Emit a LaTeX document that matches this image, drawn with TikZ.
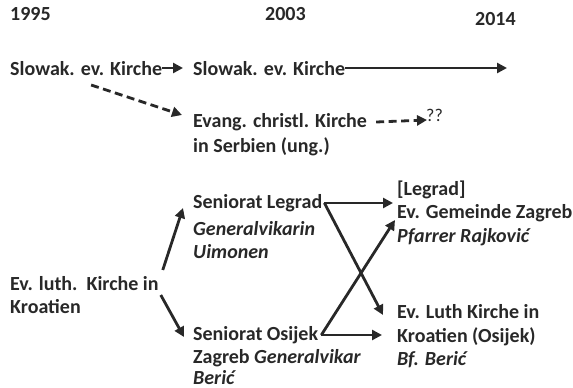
\documentclass[tikz,border=0pt]{standalone}
\usepackage{fontspec}
\setmainfont{Carlito}
\usetikzlibrary{arrows.meta}
\definecolor{ink}{RGB}{40,40,40}
\begin{document}
\begin{tikzpicture}[x=1pt,y=-1pt,
  every node/.style={text=ink, inner sep=0pt, anchor=base west, font=\fontsize{20}{24}\selectfont\bfseries},
  arr/.style={draw=ink, line width=2.8pt, -{Triangle[length=10pt,width=10pt]}},
  darr/.style={arr, dash pattern=on 8pt off 4.5pt}]
\useasboundingbox (0,0) rectangle (573,388);
% years
\node (y1) at (10,20) {1995};
\node (y2) at (265,20) {2003};
\node (y3) at (475,25) {2014};
% top part
\node (s1) at (10,75) {Slowak. ev. Kirche};
\node (s2) at (193,75) {Slowak. ev. Kirche};
\coordinate (s2end) at (507,68);
\node (ev) at (193,127) {Evang. christl. Kirche};
\node (ev2) at (193,152) {in Serbien (ung.)};
\node[font=\fontsize{18}{20}\selectfont] (q) at (426,121) {??};
\draw[arr] ([yshift=7pt]s1.base east) -- ([xshift=-10pt,yshift=7pt]s2.base west);
\draw[arr] ([yshift=7pt]s2.base east) -- (s2end);
\draw[darr] ([xshift=5pt,yshift=-10pt]s1.base) -- ([xshift=-11pt,yshift=12pt]ev.base west);
\draw[darr] ([xshift=9pt,yshift=5pt]ev.base east) -- ([xshift=1pt,yshift=1pt]q.base west);
% bottom part
\node (elk) at (10,290) {Ev. luth.\ \ Kirche in};
\node (elk2) at (10,313) {Kroatien};
\node (leg) at (193,208) {Seniorat Legrad};
\node (leg2) at (193,235) {\itshape Generalvikarin};
\node (leg3) at (193,258) {\itshape Uimonen};
\node (osi) at (193,340) {Seniorat Osijek};
\node (osi2) at (193,363) {Zagreb \itshape Generalvikar};
\node (osi3) at (193,384) {\itshape Beri\'c};
\node (lr) at (397,195) {[Legrad]};
\node (gem) at (397,218) {Ev. Gemeinde Zagreb};
\node (gem2) at (397,242) {\itshape Pfarrer Rajkovi\'c};
\node (luth) at (397,318) {Ev. Luth Kirche in};
\node (luth2) at (397,342) {Kroatien (Osijek)};
\node (luth3) at (397,365) {\itshape Bf. Beri\'c};
\draw[arr] ([xshift=4pt,yshift=20pt]elk.base east) -- ([xshift=-10pt]leg.base west);
\draw[arr] ([xshift=2pt,yshift=-5pt]elk.base east) -- ([xshift=-9pt,yshift=3pt]osi.base west);
\draw[arr] ([xshift=2pt,yshift=5pt]leg.base east) -- ([xshift=-4pt,yshift=-8pt]lr.base west);
\draw[arr] ([xshift=2pt,yshift=5pt]leg.base east) -- ([xshift=-14pt,yshift=3pt]luth.base west);
\draw[arr] ([xshift=3pt,yshift=5pt]osi.base east) -- ([xshift=-2pt,yshift=-2pt]gem.base west);
\draw[arr] ([xshift=3pt,yshift=5pt]osi.base east) -- ([xshift=-15pt,yshift=7pt]luth2.base west);
\end{tikzpicture}
\end{document}
